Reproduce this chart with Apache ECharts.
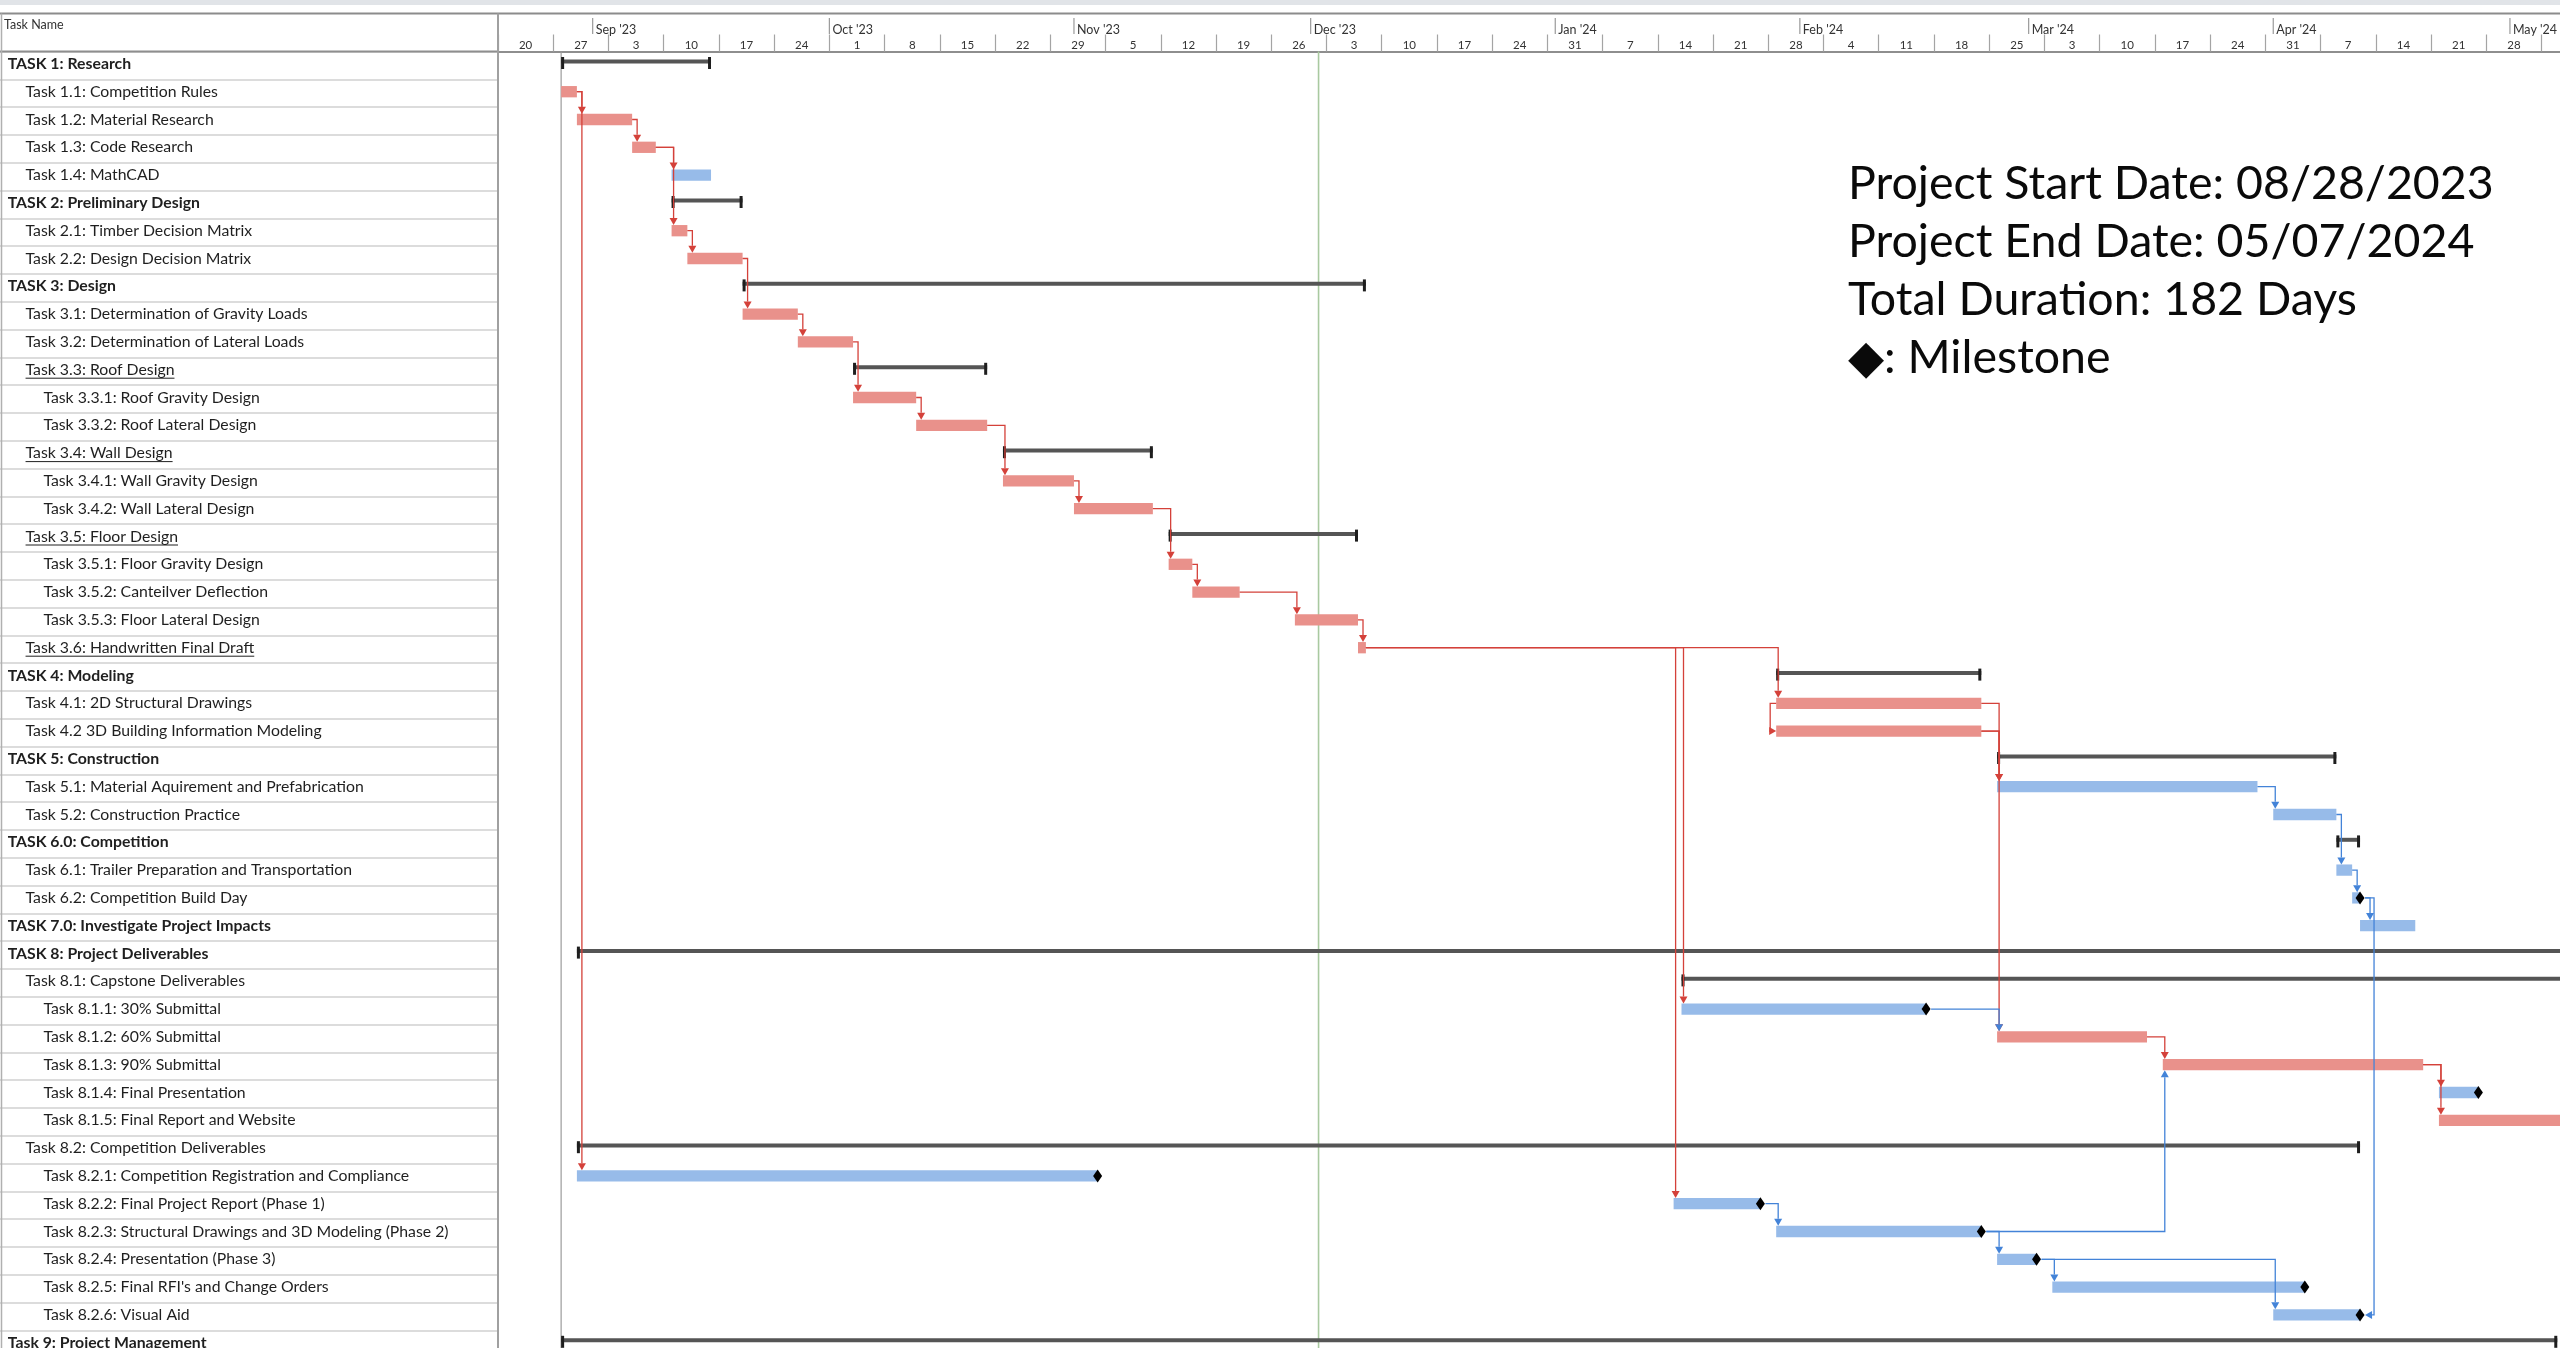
<!DOCTYPE html>
<html>
<head>
<meta charset="utf-8">
<script src="https://cdn.jsdelivr.net/npm/echarts@6.0.0/dist/echarts.min.js"></script>
<style>html,body{margin:0;padding:0;background:#fff;}#chart{width:2560px;height:1348px;}</style>
</head>
<body>
<div id="chart"></div>
<script>
// ---------------- DATA ----------------
const taskNames = [
  'TASK 1: Research',
  'Task 1.1: Competition Rules',
  'Task 1.2: Material Research',
  'Task 1.3: Code Research',
  'Task 1.4: MathCAD',
  'TASK 2: Preliminary Design',
  'Task 2.1: Timber Decision Matrix',
  'Task 2.2: Design Decision Matrix',
  'TASK 3: Design',
  'Task 3.1: Determination of Gravity Loads',
  'Task 3.2: Determination of Lateral Loads',
  'Task 3.3: Roof Design',
  'Task 3.3.1: Roof Gravity Design',
  'Task 3.3.2: Roof Lateral Design',
  'Task 3.4: Wall Design',
  'Task 3.4.1: Wall Gravity Design',
  'Task 3.4.2: Wall Lateral Design',
  'Task 3.5: Floor Design',
  'Task 3.5.1: Floor Gravity Design',
  'Task 3.5.2: Canteilver Deflection',
  'Task 3.5.3: Floor Lateral Design',
  'Task 3.6: Handwritten Final Draft',
  'TASK 4: Modeling',
  'Task 4.1: 2D Structural Drawings',
  'Task 4.2 3D Building Information Modeling',
  'TASK 5: Construction',
  'Task 5.1: Material Aquirement and Prefabrication',
  'Task 5.2: Construction Practice',
  'TASK 6.0: Competition',
  'Task 6.1: Trailer Preparation and Transportation',
  'Task 6.2: Competition Build Day',
  'TASK 7.0: Investigate Project Impacts',
  'TASK 8: Project Deliverables',
  'Task 8.1: Capstone Deliverables',
  'Task 8.1.1: 30% Submittal',
  'Task 8.1.2: 60% Submittal',
  'Task 8.1.3: 90% Submittal',
  'Task 8.1.4: Final Presentation',
  'Task 8.1.5: Final Report and Website',
  'Task 8.2: Competition Deliverables',
  'Task 8.2.1: Competition Registration and Compliance',
  'Task 8.2.2: Final Project Report (Phase 1)',
  'Task 8.2.3: Structural Drawings and 3D Modeling (Phase 2)',
  'Task 8.2.4: Presentation (Phase 3)',
  "Task 8.2.5: Final RFI's and Change Orders",
  'Task 8.2.6: Visual Aid',
  'Task 9: Project Management'
];
const taskLevels = [0,1,1,1,1, 0,1,1, 0,1,1,1,2,2,1,2,2,1,2,2,2,1, 0,1,1, 0,1,1, 0,1,1, 0, 0,1,2,2,2,2,2,1,2,2,2,2,2,2, 0];
const underlinedRows = [11, 14, 17, 21];

// [row, start, end, kind]  kind: sum = summary, crit = critical (red), norm = normal (blue)
const taskBars = [
  [0,  '2023-08-28', '2023-09-16', 'sum'],
  [1,  '2023-08-28', '2023-08-30', 'crit'],
  [2,  '2023-08-30', '2023-09-06', 'crit'],
  [3,  '2023-09-06', '2023-09-09', 'crit'],
  [4,  '2023-09-11', '2023-09-16', 'norm'],
  [5,  '2023-09-11', '2023-09-20', 'sum'],
  [6,  '2023-09-11', '2023-09-13', 'crit'],
  [7,  '2023-09-13', '2023-09-20', 'crit'],
  [8,  '2023-09-20', '2023-12-08', 'sum'],
  [9,  '2023-09-20', '2023-09-27', 'crit'],
  [10, '2023-09-27', '2023-10-04', 'crit'],
  [11, '2023-10-04', '2023-10-21', 'sum'],
  [12, '2023-10-04', '2023-10-12', 'crit'],
  [13, '2023-10-12', '2023-10-21', 'crit'],
  [14, '2023-10-23', '2023-11-11', 'sum'],
  [15, '2023-10-23', '2023-11-01', 'crit'],
  [16, '2023-11-01', '2023-11-11', 'crit'],
  [17, '2023-11-13', '2023-12-07', 'sum'],
  [18, '2023-11-13', '2023-11-16', 'crit'],
  [19, '2023-11-16', '2023-11-22', 'crit'],
  [20, '2023-11-29', '2023-12-07', 'crit'],
  [21, '2023-12-07', '2023-12-08', 'crit'],
  [22, '2024-01-29', '2024-02-24', 'sum'],
  [23, '2024-01-29', '2024-02-24', 'crit'],
  [24, '2024-01-29', '2024-02-24', 'crit'],
  [25, '2024-02-26', '2024-04-09', 'sum'],
  [26, '2024-02-26', '2024-03-30', 'norm'],
  [27, '2024-04-01', '2024-04-09', 'norm'],
  [28, '2024-04-09', '2024-04-12', 'sum'],
  [29, '2024-04-09', '2024-04-11', 'norm'],
  [30, '2024-04-11', '2024-04-12', 'norm'],
  [31, '2024-04-12', '2024-04-19', 'norm'],
  [32, '2023-08-30', '2024-05-12', 'sum'],
  [33, '2024-01-17', '2024-05-12', 'sum'],
  [34, '2024-01-17', '2024-02-17', 'norm'],
  [35, '2024-02-26', '2024-03-16', 'crit'],
  [36, '2024-03-18', '2024-04-20', 'crit'],
  [37, '2024-04-22', '2024-04-27', 'norm'],
  [38, '2024-04-22', '2024-05-12', 'crit'],
  [39, '2023-08-30', '2024-04-12', 'sum'],
  [40, '2023-08-30', '2023-11-04', 'norm'],
  [41, '2024-01-16', '2024-01-27', 'norm'],
  [42, '2024-01-29', '2024-02-24', 'norm'],
  [43, '2024-02-26', '2024-03-02', 'norm'],
  [44, '2024-03-04', '2024-04-05', 'norm'],
  [45, '2024-04-01', '2024-04-12', 'norm'],
  [46, '2023-08-28', '2024-05-07', 'sum']
];

// [row, date]
const milestones = [
  [30, '2024-04-12'], [34, '2024-02-17'], [37, '2024-04-27'], [40, '2023-11-04'],
  [41, '2024-01-27'], [42, '2024-02-24'], [43, '2024-03-02'], [44, '2024-04-05'], [45, '2024-04-12']
];

// [predecessor row, successor row, type]
const taskLinks = [
  [1, 2, 'FS'], [1, 40, 'FS'], [2, 3, 'FS'], [3, 4, 'FS'], [3, 6, 'FS'], [6, 7, 'FS'], [7, 9, 'FS'],
  [9, 10, 'FS'], [10, 12, 'FS'], [12, 13, 'FS'], [13, 15, 'FS'], [15, 16, 'FS'], [16, 18, 'FS'],
  [18, 19, 'FS'], [19, 20, 'FS'], [20, 21, 'FS'], [21, 23, 'FS'], [21, 34, 'FS'], [21, 41, 'FS'],
  [23, 24, 'SS'], [23, 26, 'FS'], [24, 26, 'FS'], [24, 35, 'FS'],
  [26, 27, 'FS'], [27, 29, 'FS'], [29, 30, 'FS'], [30, 31, 'FS'], [30, 45, 'FF'],
  [34, 35, 'FS'], [35, 36, 'FS'], [36, 37, 'FS'], [36, 38, 'FS'],
  [41, 42, 'FS'], [42, 43, 'FS'], [42, 36, 'FS'], [43, 44, 'FS'], [43, 45, 'FS']
];

const weekLabels = ['20','27','3','10','17','24','1','8','15','22','29','5','12','19','26','3','10','17','24',
  '31','7','14','21','28','4','11','18','25','3','10','17','24','31','7','14','21','28','5'];
const monthLabels = ["Sep '23","Oct '23","Nov '23","Dec '23","Jan '24","Feb '24","Mar '24","Apr '24","May '24"];
const monthStarts = ['2023-09-01','2023-10-01','2023-11-01','2023-12-01','2024-01-01','2024-02-01','2024-03-01','2024-04-01','2024-05-01'];

const timelineStart = '2023-08-20';
const timelineEnd = '2024-05-08';
const projectStart = '2023-08-28';
const todayDate = '2023-12-02';

const infoLines = ['Project Start Date: 08/28/2023', 'Project End Date: 05/07/2024', 'Total Duration: 182 Days', '\u25C6: Milestone'];

// ---------------- LAYOUT / STYLE ----------------
const L = { panelW: 498, headTop: 13.5, bodyTop: 51.5, rowH: 27.8, pxPerDay: 7.89,
  barH: 11.3, barDy: -1.5, textX: 7.7, indent: 17.85, nameSize: 15.8 };
const C = { crit: '#e9918b', norm: '#97bbe9', sumBar: '#555555', sumCap: '#1e1e1e',
  linkRed: '#d4413a', linkBlue: '#4383d8', text: '#1f1f1f', grid: '#dcdcdc' };
const FONT = 'Lato';

function dayOf(s) {
  const a = s.split('-').map(Number), b = timelineStart.split('-').map(Number);
  return (Date.UTC(a[0], a[1] - 1, a[2]) - Date.UTC(b[0], b[1] - 1, b[2])) / 86400000;
}
const xMax = dayOf(timelineEnd);
const nRows = taskNames.length;
const bodyH = nRows * L.rowH;
const gridW = xMax * L.pxPerDay;

const rowBar = {};
taskBars.forEach(b => { rowBar[b[0]] = b; });
const msRows = new Set(milestones.map(m => m[0]));

const barData = taskBars.filter(b => b[3] !== 'sum').map(b => [dayOf(b[1]), dayOf(b[2]), b[0], b[3] === 'crit' ? 1 : 0]);
const sumData = taskBars.filter(b => b[3] === 'sum').map(b => [dayOf(b[1]), dayOf(b[2]), b[0]]);
const msData = milestones.map(m => [dayOf(m[1]), m[0]]);
const linkTypeCodes = ['FS', 'SS', 'FF'];
const linkData = taskLinks.map(([p, s, t]) => {
  const pb = rowBar[p], sb = rowBar[s];
  return [dayOf(pb[1]), dayOf(pb[2]), p, dayOf(sb[1]), dayOf(sb[2]), s, linkTypeCodes.indexOf(t),
    pb[3] === 'crit' ? 1 : 0, msRows.has(p) ? 1 : 0, msRows.has(s) ? 1 : 0];
});
const refData = [[dayOf(projectStart), 0], [dayOf(todayDate), 1]];
const monthData = monthStarts.map((s, i) => [dayOf(s), 0.5, i]);
const panelData = taskNames.map((n, i) => [0.5, i]);

const measureCtx = document.createElement('canvas').getContext('2d');

// ---------------- CHART ----------------
const chart = echarts.init(document.getElementById('chart'), null, { width: 2560, height: 1348 });

const option = {
  animation: false,
  backgroundColor: '#ffffff',
  title: {
    text: infoLines.join('\n'), left: 1848, top: 155, padding: 0,
    textStyle: { fontFamily: FONT, fontSize: 46.5, fontWeight: 'normal', lineHeight: 58, color: '#0a0a0a' }
  },
  grid: [
    { left: L.panelW, top: L.bodyTop, width: gridW, height: bodyH, outerBoundsMode: 'none', containLabel: false },
    { left: L.panelW, top: L.headTop, width: gridW, height: L.bodyTop - L.headTop, outerBoundsMode: 'none', containLabel: false },
    { left: 0, top: L.bodyTop, width: L.panelW, height: bodyH, outerBoundsMode: 'none', containLabel: false }
  ],
  xAxis: [
    { gridIndex: 0, type: 'value', min: 0, max: xMax, show: false },
    { gridIndex: 1, type: 'value', min: 0, max: xMax, interval: 7, position: 'bottom',
      axisLine: { show: true, lineStyle: { color: '#8e8e8e', width: 2 } },
      axisTick: { show: true, inside: true, length: 17, lineStyle: { color: '#a4a4a4', width: 1.2 } },
      splitLine: { show: false },
      axisLabel: { show: true, inside: true, margin: 0, fontFamily: FONT, fontSize: 11.5, color: '#333',
        padding: [0, 0, 0, 7 * L.pxPerDay],
        formatter: v => (v % 7 === 0 && weekLabels[v / 7] !== undefined) ? weekLabels[v / 7] : '' } },
    { gridIndex: 2, type: 'value', min: 0, max: 1, show: false }
  ],
  yAxis: [
    { gridIndex: 0, type: 'category', data: taskNames, inverse: true, show: false },
    { gridIndex: 1, type: 'value', min: 0, max: 1, show: false },
    { gridIndex: 2, type: 'category', data: taskNames, inverse: true,
      axisLine: { show: false }, axisTick: { show: false }, axisLabel: { show: false },
      splitLine: { show: true, interval: 0, lineStyle: { color: C.grid, width: 2 } } }
  ],
  graphic: [
    { type: 'rect', z: 10, shape: { x: 0, y: 0, width: 2560, height: 5 }, style: { fill: '#e1e4e8' } },
    { type: 'line', z: 10, shape: { x1: 0, y1: L.headTop, x2: 2560, y2: L.headTop }, style: { stroke: '#8c8c8c', lineWidth: 2 } },
    { type: 'line', z: 10, shape: { x1: 0, y1: L.bodyTop, x2: L.panelW, y2: L.bodyTop }, style: { stroke: '#8e8e8e', lineWidth: 2 } },
    { type: 'line', z: 10, shape: { x1: L.panelW, y1: L.headTop, x2: L.panelW, y2: 1348 }, style: { stroke: '#a0a0a0', lineWidth: 2 } },
    { type: 'line', z: 10, shape: { x1: 1.5, y1: L.headTop, x2: 1.5, y2: 1348 }, style: { stroke: '#b0b0b0', lineWidth: 1.5 } },
    { type: 'text', z: 10, style: { x: 4, y: 25, text: 'Task Name', fontFamily: FONT, fontSize: 12.5, fill: '#333', verticalAlign: 'middle' } }
  ],
  series: [
    { // task names panel
      type: 'custom', xAxisIndex: 2, yAxisIndex: 2, data: panelData, z: 5, silent: true,
      renderItem: (params, api) => {
        const i = api.value(1);
        const p = api.coord([0, i]);
        const lvl = taskLevels[i];
        const x = L.textX + lvl * L.indent;
        const weight = lvl === 0 ? 'bold' : 'normal';
        const children = [{ type: 'text', style: { x, y: p[1] - 1.5, text: taskNames[i], fontFamily: FONT, fontSize: L.nameSize,
          fontWeight: weight, fill: C.text, align: 'left', verticalAlign: 'middle' } }];
        if (underlinedRows.indexOf(i) >= 0) {
          measureCtx.font = weight + ' ' + L.nameSize + 'px ' + FONT;
          const w = measureCtx.measureText(taskNames[i]).width;
          children.push({ type: 'line', shape: { x1: x, y1: p[1] + 7, x2: x + w, y2: p[1] + 7 }, style: { stroke: C.text, lineWidth: 1 } });
        }
        return { type: 'group', children };
      }
    },
    { // month tier of the header
      type: 'custom', xAxisIndex: 1, yAxisIndex: 1, data: monthData, z: 5, silent: true,
      renderItem: (params, api) => {
        const x = api.coord([api.value(0), 0.5])[0];
        return { type: 'group', children: [
          { type: 'line', shape: { x1: x, y1: 18, x2: x, y2: 34 }, style: { stroke: '#9a9a9a', lineWidth: 1.2 } },
          { type: 'text', style: { x: x + 3, y: 29.5, text: monthLabels[api.value(2)], fontFamily: FONT, fontSize: 12.5,
            fill: '#333', verticalAlign: 'middle', align: 'left' } }
        ] };
      }
    },
    { // project start & today lines
      type: 'custom', xAxisIndex: 0, yAxisIndex: 0, data: refData, z: 1, silent: true,
      encode: { x: 0 },
      renderItem: (params, api) => {
        const cs = params.coordSys;
        const x = api.coord([api.value(0), 0])[0];
        const isToday = api.value(1) === 1;
        return { type: 'line', shape: { x1: x, y1: cs.y, x2: x, y2: cs.y + cs.height },
          style: { stroke: isToday ? '#a9c9a0' : '#9b9b9b', lineWidth: isToday ? 1.6 : 1.2 } };
      }
    },
    { // task bars
      type: 'custom', xAxisIndex: 0, yAxisIndex: 0, data: barData, z: 2, silent: true,
      encode: { x: [0, 1], y: 2 },
      renderItem: (params, api) => {
        const s = api.coord([api.value(0), api.value(2)]);
        const e = api.coord([api.value(1), api.value(2)]);
        const yc = s[1] + L.barDy;
        return { type: 'rect', shape: { x: s[0], y: yc - L.barH / 2, width: e[0] - s[0], height: L.barH },
          style: { fill: api.value(3) === 1 ? C.crit : C.norm } };
      }
    },
    { // summary bars
      type: 'custom', xAxisIndex: 0, yAxisIndex: 0, data: sumData, z: 3, silent: true,
      encode: { x: [0, 1], y: 2 },
      renderItem: (params, api) => {
        const s = api.coord([api.value(0), api.value(2)]);
        const e = api.coord([api.value(1), api.value(2)]);
        const yc = s[1];
        return { type: 'group', children: [
          { type: 'rect', shape: { x: s[0], y: yc - 6, width: e[0] - s[0], height: 4 }, style: { fill: C.sumBar } },
          { type: 'rect', shape: { x: s[0], y: yc - 8.4, width: 3, height: 12 }, style: { fill: C.sumCap } },
          { type: 'rect', shape: { x: e[0] - 3, y: yc - 8.4, width: 3, height: 12 }, style: { fill: C.sumCap } }
        ] };
      }
    },
    { // dependency links
      type: 'custom', xAxisIndex: 0, yAxisIndex: 0, data: linkData, z: 4, silent: true,
      encode: { x: [0, 1], y: 2 },
      renderItem: (params, api) => {
        const ps = api.value(0), pe = api.value(1), pr = api.value(2);
        const ss = api.value(3), se = api.value(4), sr = api.value(5);
        const type = api.value(6), crit = api.value(7), pMs = api.value(8), sMs = api.value(9);
        const col = crit === 1 ? C.linkRed : C.linkBlue;
        const P0 = api.coord([ps, pr]), P1 = api.coord([pe, pr]);
        const S0 = api.coord([ss, sr]), S1 = api.coord([se, sr]);
        const py = P0[1] + L.barDy, sy = S0[1] + L.barDy;
        const hb = L.barH / 2, ah = 7, aw = 4;
        let pts, tri;
        if (type === 0) {
          const x0 = P1[0] + (pMs ? 5 : 0);
          const ax = Math.max(x0 + 5, S0[0] + 2);
          if (sr > pr) {
            const yt = sy - hb;
            pts = [[x0, py], [ax, py], [ax, yt - ah]];
            tri = [[ax - aw, yt - ah], [ax + aw, yt - ah], [ax, yt]];
          } else {
            const yb = sy + hb;
            pts = [[x0, py], [ax, py], [ax, yb + ah]];
            tri = [[ax - aw, yb + ah], [ax + aw, yb + ah], [ax, yb]];
          }
        } else if (type === 1) {
          const xl = P0[0] - 6, tip = S0[0];
          pts = [[P0[0], py], [xl, py], [xl, sy], [tip - ah, sy]];
          tri = [[tip - ah, sy - aw], [tip - ah, sy + aw], [tip, sy]];
        } else {
          const xr = Math.max(P1[0], S1[0]) + 14, tip = S1[0] + (sMs ? 5 : 0);
          pts = [[P1[0] + (pMs ? 5 : 0), py], [xr, py], [xr, sy], [tip + ah, sy]];
          tri = [[tip + ah, sy - aw], [tip + ah, sy + aw], [tip, sy]];
        }
        return { type: 'group', children: [
          { type: 'polyline', shape: { points: pts }, style: { stroke: col, lineWidth: 1.3, fill: null } },
          { type: 'polygon', shape: { points: tri }, style: { fill: col } }
        ] };
      }
    },
    { // milestones
      type: 'custom', xAxisIndex: 0, yAxisIndex: 0, data: msData, z: 5, silent: true,
      encode: { x: 0, y: 1 },
      renderItem: (params, api) => {
        const p = api.coord([api.value(0), api.value(1)]);
        const y = p[1] + L.barDy, x = p[0];
        return { type: 'polygon', shape: { points: [[x, y - 6.5], [x + 4.5, y], [x, y + 6.5], [x - 4.5, y]] }, style: { fill: '#000' } };
      }
    }
  ]
};
chart.setOption(option);
</script>
</body>
</html>
